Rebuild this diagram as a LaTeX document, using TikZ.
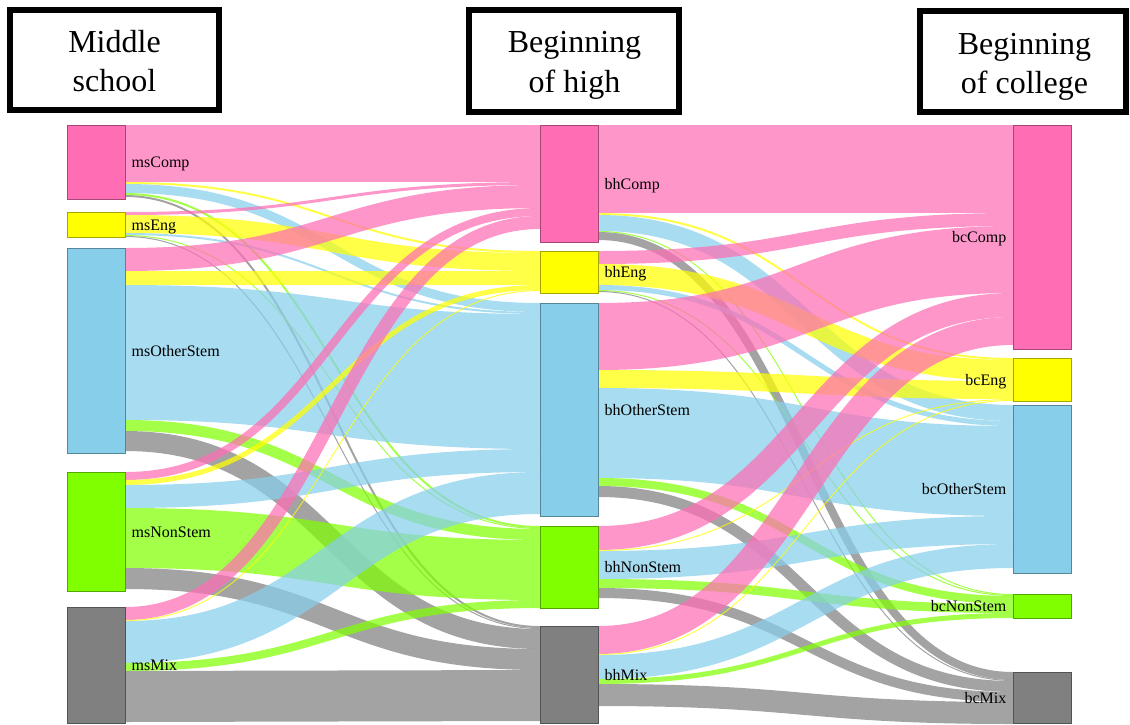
\documentclass[tikz,border=0pt]{standalone}
\usepackage{fontspec}
\setmainfont{Liberation Serif}
\usetikzlibrary{calc}

\definecolor{cpink}{RGB}{255,110,180}
\definecolor{cyellow}{RGB}{255,255,0}
\definecolor{cblue}{RGB}{135,206,235}
\definecolor{cgreen}{RGB}{127,255,0}
\definecolor{cgray}{RGB}{128,128,128}

\tikzset{
  snode/.style={draw=#1!65!black, fill=#1, line width=0.7pt, minimum width=58pt,
    inner sep=0pt, outer sep=0pt, anchor=north west},
  link/.style={draw=#1, draw opacity=0.72},
  lbl/.style={font=\fontsize{16}{16}\selectfont, inner sep=0pt, anchor=base west},
  rlbl/.style={lbl, anchor=base east},
  hbox/.style={draw=black, line width=6pt, inner sep=0pt, outer sep=0pt},
  htext/.style={font=\fontsize{32}{39}\selectfont, inner sep=0pt, anchor=base},
}

% flow band: source, offset at source, target, offset at target, width, colour
\newcommand\sklink[6]{%
  \coordinate (la) at ($(#1.north east)+(0,{#2+#5/2})$);
  \coordinate (lb) at ($(#3.north west)+(0,{#4+#5/2})$);
  \coordinate (lm) at ($(la)!0.5!(lb)$);
  \draw[link=#6, line width=#5pt] (la) .. controls (lm |- la) and (lm |- lb) .. (lb);
}

\begin{document}
\begin{tikzpicture}[x=1pt, y=-1pt]
\useasboundingbox (0,0) rectangle (1130,724);

% column headers
\node[hbox, minimum width=209pt, minimum height=100pt] (hMS) at (114.5,60) {};
\node[htext] (hMS1) at (114.5,52) {Middle};
\node[htext] (hMS2) at (114.5,91) {school};
\node[hbox, minimum width=210pt, minimum height=102pt] (hBH) at (574,61) {};
\node[htext] (hBH1) at (574.5,52) {Beginning};
\node[htext] (hBH2) at (574.5,92) {of high};
\node[hbox, minimum width=206pt, minimum height=101pt] (hBC) at (1023,61.5) {};
\node[htext] (hBC1) at (1024.5,54) {Beginning};
\node[htext] (hBC2) at (1024.5,93) {of college};

% nodes (positions only; drawn again on top of the links)
\path
  (67,125)   node[snode=cpink,   minimum height=74pt]  (msComp)  {}
  (67,212)   node[snode=cyellow, minimum height=25pt]  (msEng)   {}
  (67,248)   node[snode=cblue,   minimum height=205pt] (msOther) {}
  (67,472)   node[snode=cgreen,  minimum height=119pt] (msNon)   {}
  (67,607)   node[snode=cgray,   minimum height=116pt] (msMix)   {}
  (540,125)  node[snode=cpink,   minimum height=117pt] (bhComp)  {}
  (540,251)  node[snode=cyellow, minimum height=42pt]  (bhEng)   {}
  (540,303)  node[snode=cblue,   minimum height=213pt] (bhOther) {}
  (540,526)  node[snode=cgreen,  minimum height=82pt]  (bhNon)   {}
  (540,626)  node[snode=cgray,   minimum height=97pt]  (bhMix)   {}
  (1013,125) node[snode=cpink,   minimum height=224pt] (bcComp)  {}
  (1013,358) node[snode=cyellow, minimum height=43pt]  (bcEng)   {}
  (1013,405) node[snode=cblue,   minimum height=168pt] (bcOther) {}
  (1013,594) node[snode=cgreen,  minimum height=24pt]  (bcNon)   {}
  (1013,672) node[snode=cgray,   minimum height=51pt]  (bcMix)   {};

% middle school -> beginning of high
\sklink{msComp}{0}{bhComp}{0}{57}{cpink}
\sklink{msComp}{57}{bhEng}{0}{2}{cyellow}
\sklink{msComp}{59}{bhOther}{0}{9}{cblue}
\sklink{msComp}{68}{bhNon}{0}{2}{cgreen}
\sklink{msComp}{70}{bhMix}{0}{2}{cgray}
\sklink{msEng}{0}{bhComp}{57}{3}{cpink}
\sklink{msEng}{3}{bhEng}{2}{18}{cyellow}
\sklink{msEng}{21}{bhOther}{9}{2}{cblue}
\sklink{msEng}{23}{bhNon}{2}{1}{cgreen}
\sklink{msEng}{24}{bhMix}{2}{1}{cgray}
\sklink{msOther}{0}{bhComp}{60}{23}{cpink}
\sklink{msOther}{23}{bhEng}{20}{14}{cyellow}
\sklink{msOther}{37}{bhOther}{11}{135}{cblue}
\sklink{msOther}{172}{bhNon}{3}{11}{cgreen}
\sklink{msOther}{183}{bhMix}{3}{20}{cgray}
\sklink{msNon}{0}{bhComp}{83}{8}{cpink}
\sklink{msNon}{8}{bhEng}{34}{5}{cyellow}
\sklink{msNon}{13}{bhOther}{146}{23}{cblue}
\sklink{msNon}{36}{bhNon}{14}{60}{cgreen}
\sklink{msNon}{96}{bhMix}{23}{21}{cgray}
\sklink{msMix}{0}{bhComp}{91}{13}{cpink}
\sklink{msMix}{13}{bhEng}{39}{1}{cyellow}
\sklink{msMix}{14}{bhOther}{169}{42}{cblue}
\sklink{msMix}{56}{bhNon}{74}{8}{cgreen}
\sklink{msMix}{64}{bhMix}{44}{51}{cgray}

% beginning of high -> beginning of college
\sklink{bhComp}{0}{bcComp}{0}{88}{cpink}
\sklink{bhComp}{88}{bcEng}{0}{2}{cyellow}
\sklink{bhComp}{90}{bcOther}{0}{16}{cblue}
\sklink{bhComp}{106}{bcNon}{0}{1}{cgreen}
\sklink{bhComp}{107}{bcMix}{0}{8}{cgray}
\sklink{bhEng}{0}{bcComp}{88}{13}{cpink}
\sklink{bhEng}{13}{bcEng}{2}{21}{cyellow}
\sklink{bhEng}{34}{bcOther}{16}{5}{cblue}
\sklink{bhEng}{39}{bcNon}{1}{1}{cgreen}
\sklink{bhEng}{40}{bcMix}{8}{1}{cgray}
\sklink{bhOther}{0}{bcComp}{101}{67}{cpink}
\sklink{bhOther}{67}{bcEng}{23}{18}{cyellow}
\sklink{bhOther}{85}{bcOther}{21}{90}{cblue}
\sklink{bhOther}{175}{bcNon}{2}{8}{cgreen}
\sklink{bhOther}{183}{bcMix}{9}{11}{cgray}
\sklink{bhNon}{0}{bcComp}{168}{24}{cpink}
\sklink{bhNon}{24}{bcEng}{41}{1}{cyellow}
\sklink{bhNon}{25}{bcOther}{111}{28}{cblue}
\sklink{bhNon}{53}{bcNon}{10}{9}{cgreen}
\sklink{bhNon}{62}{bcMix}{20}{10}{cgray}
\sklink{bhMix}{0}{bcComp}{192}{28}{cpink}
\sklink{bhMix}{28}{bcEng}{42}{1}{cyellow}
\sklink{bhMix}{29}{bcOther}{139}{24}{cblue}
\sklink{bhMix}{53}{bcNon}{19}{5}{cgreen}
\sklink{bhMix}{58}{bcMix}{30}{22}{cgray}

% node boxes on top of the bands
\foreach \n/\c in {msComp/cpink, msEng/cyellow, msOther/cblue, msNon/cgreen, msMix/cgray,
                   bhComp/cpink, bhEng/cyellow, bhOther/cblue, bhNon/cgreen, bhMix/cgray,
                   bcComp/cpink, bcEng/cyellow, bcOther/cblue, bcNon/cgreen, bcMix/cgray}
  \draw[draw=\c!65!black, fill=\c, line width=0.7pt] (\n.north west) rectangle (\n.south east);

% labels
\foreach \n/\t in {msComp/msComp, msEng/msEng, msOther/msOtherStem, msNon/msNonStem, msMix/msMix,
                   bhComp/bhComp, bhEng/bhEng, bhOther/bhOtherStem, bhNon/bhNonStem, bhMix/bhMix}
  \node[lbl] (\n-t) at ($(\n.east)+(6.5,5.6)$) {\t};
\foreach \n/\t in {bcComp/bcComp, bcEng/bcEng, bcOther/bcOtherStem, bcNon/bcNonStem, bcMix/bcMix}
  \node[rlbl] (\n-t) at ($(\n.west)+(-6.5,5.6)$) {\t};
\end{tikzpicture}
\end{document}
